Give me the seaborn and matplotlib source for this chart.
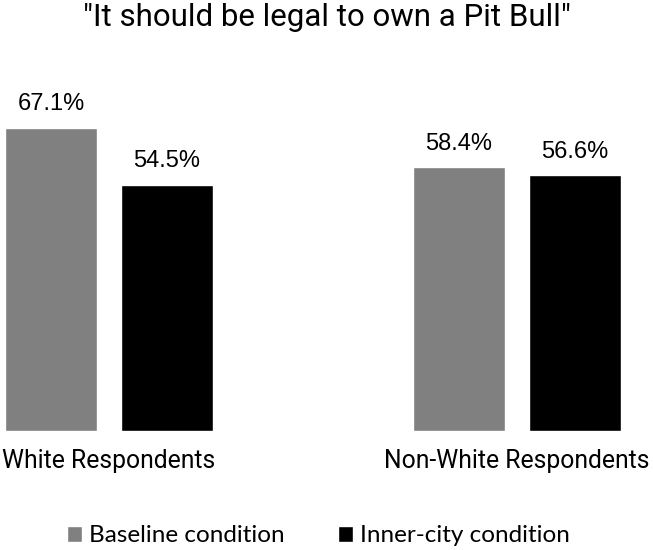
import matplotlib
matplotlib.use("Agg")
import pandas as pd
import seaborn as sns
import matplotlib.pyplot as plt

groups = ["White Respondents", "Non-White Respondents"]
conditions = ["Baseline condition", "Inner-city condition"]
baseline = [67.1, 58.4]
inner_city = [54.5, 56.6]

df = pd.DataFrame({
    "group": groups * 2,
    "condition": [conditions[0]] * 2 + [conditions[1]] * 2,
    "value": baseline + inner_city,
})

sns.set_theme(style="white")
narrow = ["Roboto", "DejaVu Sans"]
plain = ["Liberation Sans", "DejaVu Sans"]
legend_font = ["Lato", "DejaVu Sans"]

fig = plt.figure(figsize=(6.53, 5.5), dpi=100)
# axes: bottom at y=431px, top at y=60px; x from 0 to 653px
ax = fig.add_axes([0, 1 - 431 / 550, 1, 371 / 550])

sns.barplot(data=df, x="group", y="value", hue="condition",
            palette=["#808080", "#000000"], width=0.5686, gap=0.207,
            saturation=1, ax=ax)

ax.set_xlim(-109 / 408, 1 + 136 / 408)
ax.set_ylim(0, 371 / 4.52)

for cont in ax.containers:
    ax.bar_label(cont, labels=[f"{v:.1f}%" for v in cont.datavalues],
                 padding=9, fontsize=17, family=plain, color="#000000")

ax.set_xlabel("")
ax.set_ylabel("")
ax.set_yticks([])
sns.despine(ax=ax, left=True, bottom=True)
ax.tick_params(axis="x", length=0, pad=13)
for lbl in ax.get_xticklabels():
    lbl.set_fontsize(17.8)
    lbl.set_family(narrow)
    lbl.set_color("#000000")

fig.text(0.5, 1 - 17 / 550, '"It should be legal to own a Pit Bull"',
         ha="center", va="center", fontsize=22.5, family=narrow, color="#000000")

sns.move_legend(ax, "center", bbox_to_anchor=(0.488, 1 - 536 / 550),
                bbox_transform=fig.transFigure, ncol=2, frameon=False,
                title=None, handlelength=0.6, handleheight=0.6,
                handletextpad=0.3, columnspacing=2.2,
                prop={"family": legend_font, "size": 17.5})
for t in ax.get_legend().get_texts():
    t.set_color("#000000")

fig.savefig("out.png", dpi=100)
